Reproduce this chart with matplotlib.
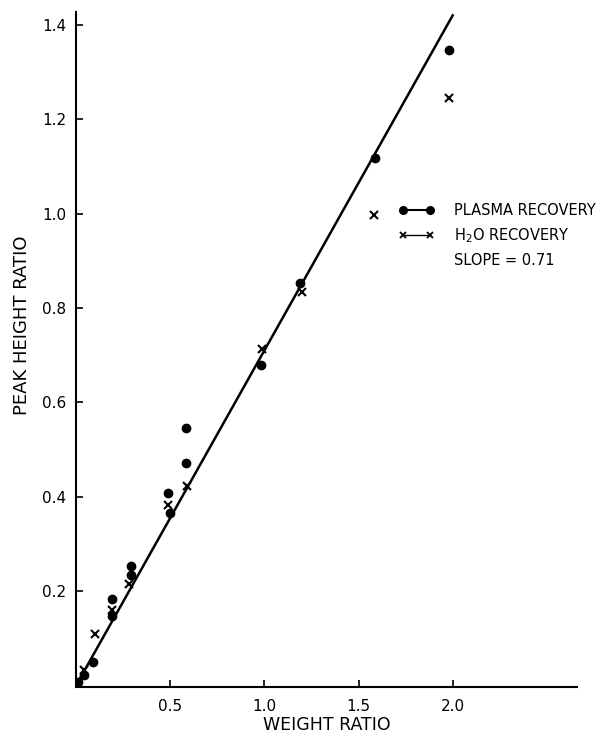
import numpy as np
import matplotlib
matplotlib.use("Agg")
import matplotlib.pyplot as plt
from matplotlib.lines import Line2D

# weight ratio vs peak height ratio
plasma_x = [0.01, 0.04, 0.09, 0.19, 0.19, 0.29, 0.29, 0.49, 0.50, 0.585, 0.585, 0.98, 1.19, 1.585, 1.98]
plasma_y = [0.008, 0.022, 0.05, 0.183, 0.148, 0.253, 0.234, 0.407, 0.365, 0.545, 0.472, 0.68, 0.853, 1.117, 1.346]

h2o_x = [0.04, 0.10, 0.19, 0.28, 0.49, 0.59, 0.99, 1.20, 1.58, 1.98]
h2o_y = [0.033, 0.109, 0.161, 0.216, 0.382, 0.423, 0.713, 0.834, 0.997, 1.244]

slope = 0.71
fit_x = [0.0, 2.0]

xticks = [0.5, 1.0, 1.5, 2.0]
yticks = [0.2, 0.4, 0.6, 0.8, 1.0, 1.2, 1.4]

plt.rcParams['font.family'] = ['DejaVu Sans']

fig = plt.figure(figsize=(6.1, 7.36), dpi=100)
ax = fig.add_axes([0.1246, 0.0666, 0.8213, 0.917])

ax.plot(fit_x, [slope * v for v in fit_x], color='k', lw=1.8, zorder=2)
ax.plot(plasma_x, plasma_y, 'o', color='k', ms=6, zorder=3)
ax.plot(h2o_x, h2o_y, 'x', color='k', ms=6, mew=1.5, zorder=3)

ax.set_xlim(0, 2.66)
ax.set_ylim(-0.003, 1.427)

for s in ['top', 'right']:
    ax.spines[s].set_visible(False)
for s in ['left', 'bottom']:
    ax.spines[s].set_linewidth(1.5)

ax.set_xticks(xticks)
ax.set_xticklabels(['%.1f' % v for v in xticks])
ax.set_yticks(yticks)
ax.set_yticklabels(['%.1f' % v for v in yticks])
ax.tick_params(axis='both', direction='in', length=5, width=1.2, labelsize=11)
ax.tick_params(axis='x', pad=9)
ax.tick_params(axis='y', pad=7)

ax.set_xlabel('WEIGHT RATIO', fontsize=12.5, labelpad=1)
ax.set_ylabel('PEAK HEIGHT RATIO', fontsize=13)
ax.yaxis.set_label_coords(-0.09, 0.536)

handles = [
    Line2D([], [], color='k', lw=1.5, marker='o', ms=5.5),
    Line2D([], [], color='k', lw=1.0, marker='x', ms=5, mew=1.3),
    Line2D([], [], ls='none'),
]
labels = ['PLASMA RECOVERY', 'H$_2$O RECOVERY', 'SLOPE = 0.71']
ax.legend(handles, labels, loc='upper left', bbox_to_anchor=(0.643, 0.717),
          frameon=False, fontsize=10.5, numpoints=2, handlelength=2.5,
          handletextpad=1.3, labelspacing=0.55, borderpad=0, borderaxespad=0)

fig.savefig('out.png', dpi=100)
